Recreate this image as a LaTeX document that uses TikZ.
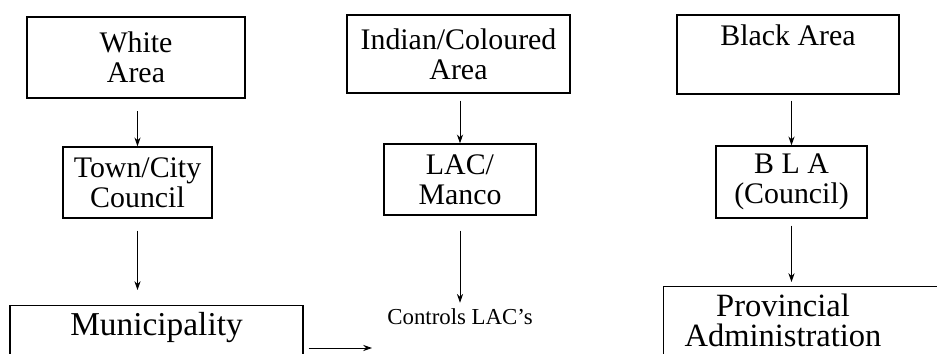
\documentclass[tikz,border=0pt]{standalone}
\usepackage{fontspec}
\setmainfont{Liberation Serif}
\usetikzlibrary{arrows.meta,positioning}

\tikzset{
  areabox/.style={draw,line width=0.8pt,align=center,inner sep=0pt,
    font=\fontsize{17}{17}\selectfont},
  lowbox/.style={draw,line width=0.8pt,inner sep=0pt,
    font=\fontsize{19}{19}\selectfont},
  flow/.style={-{Stealth[length=5pt,width=3.5pt]},line width=0.5pt}
}

\begin{document}
\begin{tikzpicture}[x=0.02cm,y=-0.02cm]
  \useasboundingbox (0,0) rectangle (937,354);
  \clip (0,0) rectangle (937,354);

  % top row
  \node[areabox,line width=1.4pt,minimum width=4.36cm,minimum height=1.62cm] (white) at (136,57.5) {White\\Area};
  \node[areabox,minimum width=4.46cm,minimum height=1.56cm] (indian) at (458.5,54) {Indian/Coloured\\Area};
  \node[areabox,minimum width=4.44cm,minimum height=1.58cm] (black) at (788,54.5) {Black Area\\\strut};

  % councils
  \node[areabox,minimum width=2.98cm,minimum height=1.42cm] (town) at (137.5,182.5) {Town/City\\Council};
  \node[areabox,minimum width=3.04cm,minimum height=1.42cm] (lac) at (460,179.5) {LAC/\\Manco};
  \node[areabox,minimum width=3.02cm,minimum height=1.44cm] (bla) at (791.5,182) {B L A\\(Council)};

  % bottom row (runs off the page)
  \node[lowbox,anchor=north,minimum width=5.86cm,text height=0.6cm,text depth=1.2cm] (muni) at (156.5,305) {Municipality};
  \node[font=\fontsize{13}{13}\selectfont] (ctrl) at (460,317) {Controls LAC's};
  \node[lowbox,anchor=north west,minimum width=6.5cm,minimum height=2cm] (prov) at (663,286) {};
  \node[align=center,inner sep=0pt,font=\fontsize{18.5}{17}\selectfont] (provtext) at (783,320) {Provincial\\Administration};
  \coordinate (ctrlend) at (372,348);

  % arrows
  \draw[flow,shorten <=0.24cm] (town.north |- white.south) -- (town.north);
  \draw[flow,shorten <=0.24cm,shorten >=0.3cm] (town.south) -- (town.south |- muni.north);
  \draw[flow,shorten <=0.14cm] (lac.north |- indian.south) -- (lac.north);
  \draw[flow,shorten <=0.3cm] (lac.south) -- (ctrl.north);
  \draw[flow,shorten <=0.12cm] (bla.north |- black.south) -- (bla.north);
  \draw[flow,shorten <=0.14cm,shorten >=0.08cm] (bla.south) -- (bla.south |- prov.north);
  \draw[flow,shorten <=0.1cm] (muni.east |- ctrlend) -- (ctrlend);
\end{tikzpicture}
\end{document}
